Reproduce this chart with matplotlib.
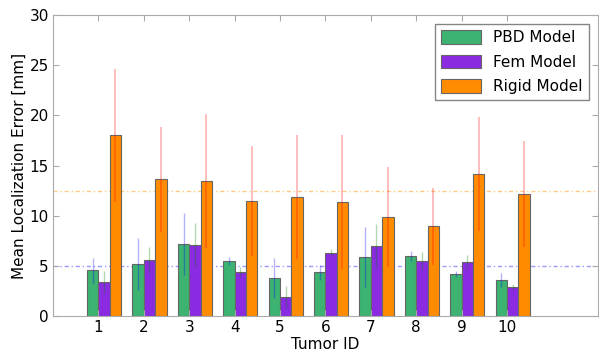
import matplotlib
matplotlib.use("Agg")
import matplotlib.pyplot as plt
import numpy as np

# Data
tumor_ids = [1, 2, 3, 4, 5, 6, 7, 8, 9, 10]
pbd_mean = [4.55, 5.18, 7.21, 5.48, 3.79, 4.35, 5.88, 5.98, 4.19, 3.59]
pbd_err = [1.25, 2.6, 3.1, 0.37, 1.96, 0.75, 3.0, 0.48, 0.33, 0.67]
fem_mean = [3.42, 5.55, 7.08, 4.39, 1.89, 6.31, 7.01, 5.48, 5.38, 2.89]
fem_err = [1.1, 1.3, 2.2, 0.48, 1.06, 0.35, 2.2, 0.9, 0.67, 0.3]
rigid_mean = [18.0, 13.62, 13.49, 11.46, 11.89, 11.36, 9.90, 8.94, 14.18, 12.16]
rigid_err = [6.6, 5.2, 6.7, 5.45, 6.2, 6.7, 5.0, 3.85, 5.7, 5.27]

plt.rcParams['font.family'] = 'DejaVu Sans'
plt.rcParams['font.size'] = 11

fig = plt.figure(figsize=(5.99, 3.52), dpi=100)
ax = fig.add_axes([0.0885, 0.1023, 0.9095, 0.8547])

x = np.array(tumor_ids)
w = 0.25
edge = '#666666'

ax.bar(x - w, pbd_mean, w, align='edge', color='#3CB371', edgecolor=edge,
       linewidth=0.8, label='PBD Model', yerr=pbd_err,
       error_kw=dict(ecolor='blue', alpha=0.3, lw=1, capsize=0))
ax.bar(x, fem_mean, w, align='edge', color='#8A2BE2', edgecolor=edge,
       linewidth=0.8, label='Fem Model', yerr=fem_err,
       error_kw=dict(ecolor='green', alpha=0.3, lw=1, capsize=0))
ax.bar(x + w, rigid_mean, w, align='edge', color='#FF8C00', edgecolor=edge,
       linewidth=0.8, label='Rigid Model', yerr=rigid_err,
       error_kw=dict(ecolor='red', alpha=0.3, lw=1.2, capsize=0))

# overall means as dash-dot reference lines
dashdot = (0, (3, 2, 1, 2))
ax.axhline(np.mean(pbd_mean), color='#9999ff', ls=dashdot, lw=1, zorder=0.5)
ax.axhline(np.mean(rigid_mean), color='#ffcc88', ls=dashdot, lw=1, zorder=0.5)

ax.set_xlim(0, 12)
ax.set_ylim(0, 30)
ax.set_xticks(tumor_ids)
ax.set_yticks(np.arange(0, 31, 5))
ax.set_xlabel('Tumor ID', labelpad=1)
ax.set_ylabel('Mean Localization Error [mm]', labelpad=2)

for s in ax.spines.values():
    s.set_color('#aaaaaa')
ax.tick_params(direction='in', top=True, right=True, length=4,
               color='#aaaaaa', labelsize=11, pad=3)

leg = ax.legend(loc='upper right', fancybox=False, fontsize=11,
                handlelength=2.6, handleheight=1.0, borderaxespad=0.6,
                labelspacing=0.6)
leg.get_frame().set_edgecolor('#666666')

fig.savefig('out.png', dpi=100, facecolor='white')
